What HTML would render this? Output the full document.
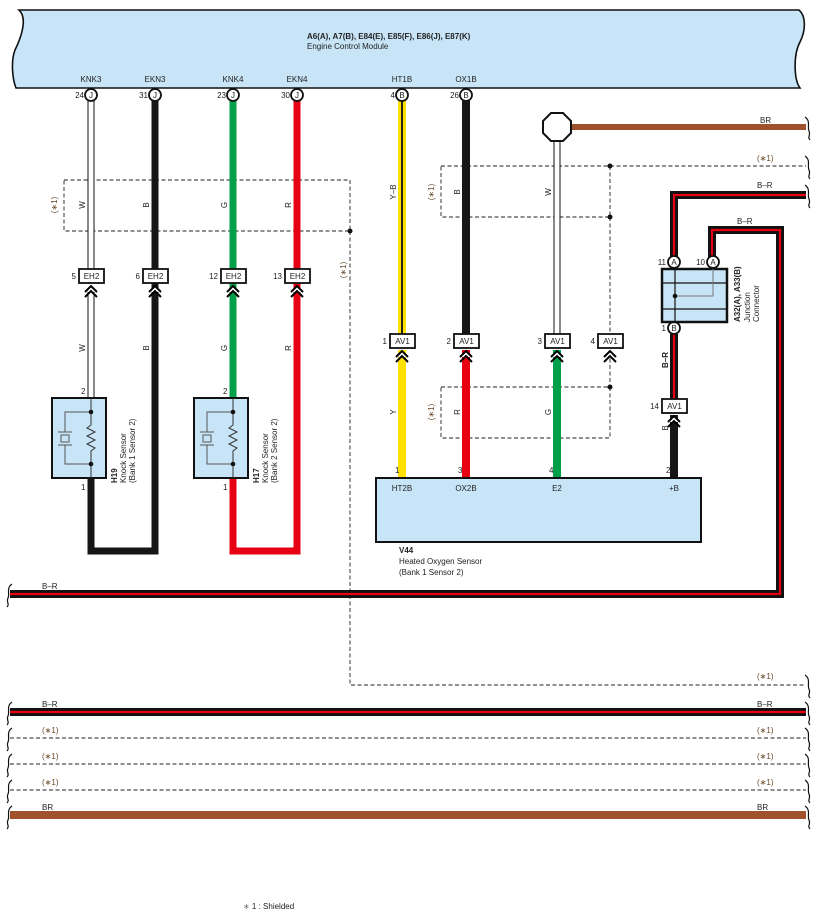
<!DOCTYPE html>
<html><head><meta charset="utf-8"><style>
html,body{margin:0;padding:0;background:#fff}
svg{display:block}
text{font-family:"Liberation Sans",Arial,sans-serif;font-size:8px;fill:#222}
.b{font-weight:bold}
.g{fill:#6a4a2a}
</style></head><body>
<svg width="818" height="918" viewBox="0 0 818 918" xmlns="http://www.w3.org/2000/svg">
<defs>
<g id="chev" fill="none" stroke="#000" stroke-width="2">
<polyline points="-6,6 0,0 6,6" fill="#fff"/><polyline points="-6,11 0,5 6,11"/>
</g>
</defs>
<!-- ECM -->
<path d="M19,10 L799,10 C806,16 806,30 800,42 C793,55 794,80 800,88 L16,88 C12,78 11,60 15,50 C21,38 28,18 19,10 Z" fill="#c8e5f8" stroke="#111" stroke-width="1.6"/>
<text x="307" y="39" class="b">A6(A), A7(B), E84(E), E85(F), E86(J), E87(K)</text>
<text x="307" y="49">Engine Control Module</text>
<g text-anchor="middle">
<text x="91" y="82">KNK3</text><text x="155" y="82">EKN3</text><text x="233" y="82">KNK4</text><text x="297" y="82">EKN4</text><text x="402" y="82">HT1B</text><text x="466" y="82">OX1B</text>
</g>

<!-- shield dashed lines -->
<g fill="none" stroke="#222" stroke-width="0.9" stroke-dasharray="4,2.5">
<rect x="64" y="180" width="286" height="51"/>
<polyline points="350,231 350,685 806,685"/>
<rect x="441" y="166" width="169" height="51"/>
<line x1="610" y1="166" x2="806" y2="166"/>
<line x1="610" y1="217" x2="610" y2="335"/>
<polyline points="610,352 610,387"/>
<rect x="441" y="387" width="169" height="51"/>
<line x1="10" y1="738" x2="806" y2="738"/>
<line x1="10" y1="764" x2="806" y2="764"/>
<line x1="10" y1="790" x2="806" y2="790"/>
</g>
<g fill="#111"><circle cx="350" cy="231" r="2.5"/><circle cx="610" cy="166" r="2.5"/><circle cx="610" cy="217" r="2.5"/><circle cx="610" cy="387" r="2.5"/></g>

<!-- wires left -->
<g fill="none" stroke-linejoin="miter">
<line x1="91" y1="101" x2="91" y2="270" stroke="#111" stroke-width="7"/><line x1="91" y1="101" x2="91" y2="272" stroke="#fff" stroke-width="5"/>
<line x1="91" y1="290" x2="91" y2="398" stroke="#111" stroke-width="7"/><line x1="91" y1="290" x2="91" y2="398" stroke="#fff" stroke-width="5"/>
<polyline points="155,101 155,551 91,551 91,478" stroke="#161616" stroke-width="7"/>
<line x1="233" y1="101" x2="233" y2="398" stroke="#00a04a" stroke-width="7"/>
<polyline points="297,101 297,551 233,551 233,478" stroke="#e60012" stroke-width="7"/>
<!-- middle -->
<line x1="402" y1="101" x2="402" y2="335" stroke="#ffe000" stroke-width="8"/><line x1="402" y1="101" x2="402" y2="335" stroke="#111" stroke-width="1.8"/>
<line x1="402" y1="350" x2="402" y2="478" stroke="#ffe000" stroke-width="8"/>
<line x1="466" y1="101" x2="466" y2="335" stroke="#161616" stroke-width="8"/>
<line x1="466" y1="350" x2="466" y2="478" stroke="#e60012" stroke-width="8"/>
<line x1="557" y1="140" x2="557" y2="335" stroke="#111" stroke-width="7"/><line x1="557" y1="140" x2="557" y2="337" stroke="#fff" stroke-width="5"/>
<line x1="557" y1="350" x2="557" y2="478" stroke="#00a04a" stroke-width="8"/>
<line x1="571" y1="127" x2="806" y2="127" stroke="#a0522d" stroke-width="6"/>
<!-- B-R -->
<polyline points="806,195 674,195 674,262" stroke="#111" stroke-width="8"/><polyline points="806,195 674,195 674,262" stroke="#e60012" stroke-width="2.2"/>
<polyline points="712,262 712,230 780,230 780,594 10,594" stroke="#111" stroke-width="8"/><polyline points="712,262 712,230 780,230 780,594 10,594" stroke="#e60012" stroke-width="2.2"/>
<line x1="674" y1="334" x2="674" y2="400" stroke="#111" stroke-width="8"/><line x1="674" y1="334" x2="674" y2="400" stroke="#e60012" stroke-width="2.2"/>
<line x1="674" y1="415" x2="674" y2="478" stroke="#161616" stroke-width="8"/>
<line x1="10" y1="712" x2="806" y2="712" stroke="#111" stroke-width="8"/><line x1="10" y1="712" x2="806" y2="712" stroke="#e60012" stroke-width="2.2"/>
<line x1="10" y1="815" x2="806" y2="815" stroke="#a0522d" stroke-width="8"/>
</g>

<!-- wavy ends -->
<g fill="none" stroke="#111" stroke-width="1.2">
<path d="M12,584 C6,588 10,594 8,598 C6,602 10,604 7,607"/>
<path d="M12,702 C6,706 10,712 8,716 C6,720 10,722 7,725"/>
<path d="M12,728 C6,732 10,738 8,742 C6,746 10,748 7,751"/>
<path d="M12,754 C6,758 10,764 8,768 C6,772 10,774 7,777"/>
<path d="M12,780 C6,784 10,790 8,794 C6,798 10,800 7,803"/>
<path d="M12,806 C6,810 10,816 8,820 C6,824 10,826 7,829"/>
<path d="M805,117 C811,121 807,127 809,131 C811,135 807,137 810,140"/>
<path d="M805,156 C811,160 807,166 809,170 C811,174 807,176 810,179"/>
<path d="M805,185 C811,189 807,195 809,199 C811,203 807,205 810,208"/>
<path d="M805,675 C811,679 807,685 809,689 C811,693 807,695 810,698"/>
<path d="M805,702 C811,706 807,712 809,716 C811,720 807,722 810,725"/>
<path d="M805,728 C811,732 807,738 809,742 C811,746 807,748 810,751"/>
<path d="M805,754 C811,758 807,764 809,768 C811,772 807,774 810,777"/>
<path d="M805,780 C811,784 807,790 809,794 C811,798 807,800 810,803"/>
<path d="M805,806 C811,810 807,816 809,820 C811,824 807,826 810,829"/>
</g>

<!-- pin circles top -->
<g stroke="#111" stroke-width="1.8" fill="#fff">
<circle cx="91" cy="95" r="6"/><circle cx="155" cy="95" r="6"/><circle cx="233" cy="95" r="6"/><circle cx="297" cy="95" r="6"/><circle cx="402" cy="95" r="6"/><circle cx="466" cy="95" r="6"/>
<circle cx="674" cy="262" r="6"/><circle cx="713" cy="262" r="6"/><circle cx="674" cy="328" r="6"/>
</g>
<g text-anchor="middle" font-size="8">
<text x="91" y="98">J</text><text x="155" y="98">J</text><text x="233" y="98">J</text><text x="297" y="98">J</text><text x="402" y="98">B</text><text x="466" y="98">B</text>
<text x="674" y="265">A</text><text x="713" y="265">A</text><text x="674" y="331">B</text>
</g>
<g text-anchor="end">
<text x="84" y="98">24</text><text x="148" y="98">31</text><text x="226" y="98">23</text><text x="290" y="98">30</text><text x="395" y="98">4</text><text x="459" y="98">26</text>
<text x="666" y="265">11</text><text x="705" y="265">10</text><text x="666" y="331">1</text>
</g>

<!-- octagon -->
<polygon points="551,113 563,113 571,121 571,133 563,141 551,141 543,133 543,121" fill="#fff" stroke="#111" stroke-width="2"/>

<!-- connectors -->
<g fill="#fff" stroke="#111" stroke-width="1.8">
<rect x="79" y="269" width="25" height="14"/><rect x="143" y="269" width="25" height="14"/><rect x="221" y="269" width="25" height="14"/><rect x="285" y="269" width="25" height="14"/>
<rect x="390" y="334" width="25" height="14"/><rect x="454" y="334" width="25" height="14"/><rect x="545" y="334" width="25" height="14"/><rect x="598" y="334" width="25" height="14"/>
<rect x="662" y="399" width="25" height="14"/>
</g>
<g text-anchor="middle">
<text x="91.5" y="279">EH2</text><text x="155.5" y="279">EH2</text><text x="233.5" y="279">EH2</text><text x="297.5" y="279">EH2</text>
<text x="402.5" y="344">AV1</text><text x="466.5" y="344">AV1</text><text x="557.5" y="344">AV1</text><text x="610.5" y="344">AV1</text><text x="674.5" y="409">AV1</text>
</g>
<g text-anchor="end">
<text x="76" y="279">5</text><text x="140" y="279">6</text><text x="218" y="279">12</text><text x="282" y="279">13</text>
<text x="387" y="344">1</text><text x="451" y="344">2</text><text x="542" y="344">3</text><text x="595" y="344">4</text><text x="659" y="409">14</text>
</g>
<use href="#chev" x="91" y="286"/><use href="#chev" x="155" y="286"/><use href="#chev" x="233" y="286"/><use href="#chev" x="297" y="286"/>
<use href="#chev" x="402" y="351"/><use href="#chev" x="466" y="351"/><use href="#chev" x="557" y="351"/><use href="#chev" x="610" y="351"/><use href="#chev" x="674" y="416"/>

<!-- junction connector -->
<rect x="662" y="269" width="65" height="53" fill="#c8e5f8" stroke="#111" stroke-width="2.5"/>
<g stroke="#111" stroke-width="1.2"><line x1="662" y1="283" x2="727" y2="283"/><line x1="662" y1="309" x2="727" y2="309"/><line x1="675" y1="269" x2="675" y2="322"/></g>
<polyline points="675,296 713,296 713,269" fill="none" stroke="#777" stroke-width="1"/>
<circle cx="675" cy="296" r="2.3" fill="#111"/>
<g transform="translate(740,322) rotate(-90)"><text x="0" y="0" class="b">A32(A), A33(B)</text><text x="0" y="10">Junction</text><text x="0" y="19">Connector</text></g>

<!-- knock sensors -->
<g>
<rect x="52" y="398" width="54" height="80" fill="#c8e5f8" stroke="#111" stroke-width="2"/>
<rect x="194" y="398" width="54" height="80" fill="#c8e5f8" stroke="#111" stroke-width="2"/>
<g fill="none" stroke="#555" stroke-width="1">
<polyline points="91,412 65,412 65,432"/><polyline points="91,464 65,464 65,445"/><line x1="58" y1="432" x2="72" y2="432"/><line x1="58" y1="445" x2="72" y2="445"/><rect x="61" y="435" width="8" height="7"/>
<polyline points="91,398 91,425 87,428 95,432 87,436 95,440 87,444 95,448 91,451 91,478" stroke="#333"/>
<polyline points="233,412 207,412 207,432"/><polyline points="233,464 207,464 207,445"/><line x1="200" y1="432" x2="214" y2="432"/><line x1="200" y1="445" x2="214" y2="445"/><rect x="203" y="435" width="8" height="7"/>
<polyline points="233,398 233,425 229,428 237,432 229,436 237,440 229,444 237,448 233,451 233,478" stroke="#333"/>
</g>
<g fill="#111"><circle cx="91" cy="412" r="2.3"/><circle cx="91" cy="464" r="2.3"/><circle cx="233" cy="412" r="2.3"/><circle cx="233" cy="464" r="2.3"/></g>
<text x="81" y="394">2</text><text x="81" y="490">1</text><text x="223" y="394">2</text><text x="223" y="490">1</text>
<g transform="translate(117,483) rotate(-90)"><text x="0" y="0" class="b">H19</text><text x="0" y="9">Knock Sensor</text><text x="0" y="18">(Bank 1 Sensor 2)</text></g>
<g transform="translate(259,483) rotate(-90)"><text x="0" y="0" class="b">H17</text><text x="0" y="9">Knock Sensor</text><text x="0" y="18">(Bank 2 Sensor 2)</text></g>
</g>

<!-- V44 -->
<rect x="376" y="478" width="325" height="64" fill="#c8e5f8" stroke="#111" stroke-width="2"/>
<g text-anchor="middle"><text x="402" y="491">HT2B</text><text x="466" y="491">OX2B</text><text x="557" y="491">E2</text><text x="674" y="491">+B</text></g>
<text x="395" y="473">1</text><text x="458" y="473">3</text><text x="549" y="473">4</text><text x="666" y="473">2</text>
<text x="399" y="553" class="b">V44</text><text x="399" y="564">Heated Oxygen Sensor</text><text x="399" y="575">(Bank 1 Sensor 2)</text>

<!-- wire labels rotated -->
<g text-anchor="middle">
<g transform="translate(85,205) rotate(-90)"><text>W</text></g>
<g transform="translate(149,205) rotate(-90)"><text>B</text></g>
<g transform="translate(227,205) rotate(-90)"><text>G</text></g>
<g transform="translate(291,205) rotate(-90)"><text>R</text></g>
<g transform="translate(85,348) rotate(-90)"><text>W</text></g>
<g transform="translate(149,348) rotate(-90)"><text>B</text></g>
<g transform="translate(227,348) rotate(-90)"><text>G</text></g>
<g transform="translate(291,348) rotate(-90)"><text>R</text></g>
<g transform="translate(396,192) rotate(-90)"><text>Y–B</text></g>
<g transform="translate(460,192) rotate(-90)"><text>B</text></g>
<g transform="translate(551,192) rotate(-90)"><text>W</text></g>
<g transform="translate(396,412) rotate(-90)"><text>Y</text></g>
<g transform="translate(460,412) rotate(-90)"><text>R</text></g>
<g transform="translate(551,412) rotate(-90)"><text>G</text></g>
<g transform="translate(668,360) rotate(-90)"><text class="b">B–R</text></g>
<g transform="translate(668,428) rotate(-90)"><text>B</text></g>
<g transform="translate(57,205) rotate(-90)"><text class="g">(∗1)</text></g>
<g transform="translate(346,270) rotate(-90)"><text class="g">(∗1)</text></g>
<g transform="translate(434,192) rotate(-90)"><text class="g">(∗1)</text></g>
<g transform="translate(434,412) rotate(-90)"><text class="g">(∗1)</text></g>
</g>
<text x="760" y="123">BR</text>
<text x="757" y="161" class="g">(∗1)</text>
<text x="757" y="188">B–R</text>
<text x="737" y="224">B–R</text>
<text x="42" y="589">B–R</text>
<text x="757" y="679" class="g">(∗1)</text>
<text x="42" y="707">B–R</text><text x="757" y="707">B–R</text>
<text x="42" y="733" class="g">(∗1)</text><text x="757" y="733" class="g">(∗1)</text>
<text x="42" y="759" class="g">(∗1)</text><text x="757" y="759" class="g">(∗1)</text>
<text x="42" y="785" class="g">(∗1)</text><text x="757" y="785" class="g">(∗1)</text>
<text x="42" y="810">BR</text><text x="757" y="810">BR</text>
<text x="243" y="909"><tspan fill="#777">∗</tspan> 1 : Shielded</text>
</svg>
</body></html>
